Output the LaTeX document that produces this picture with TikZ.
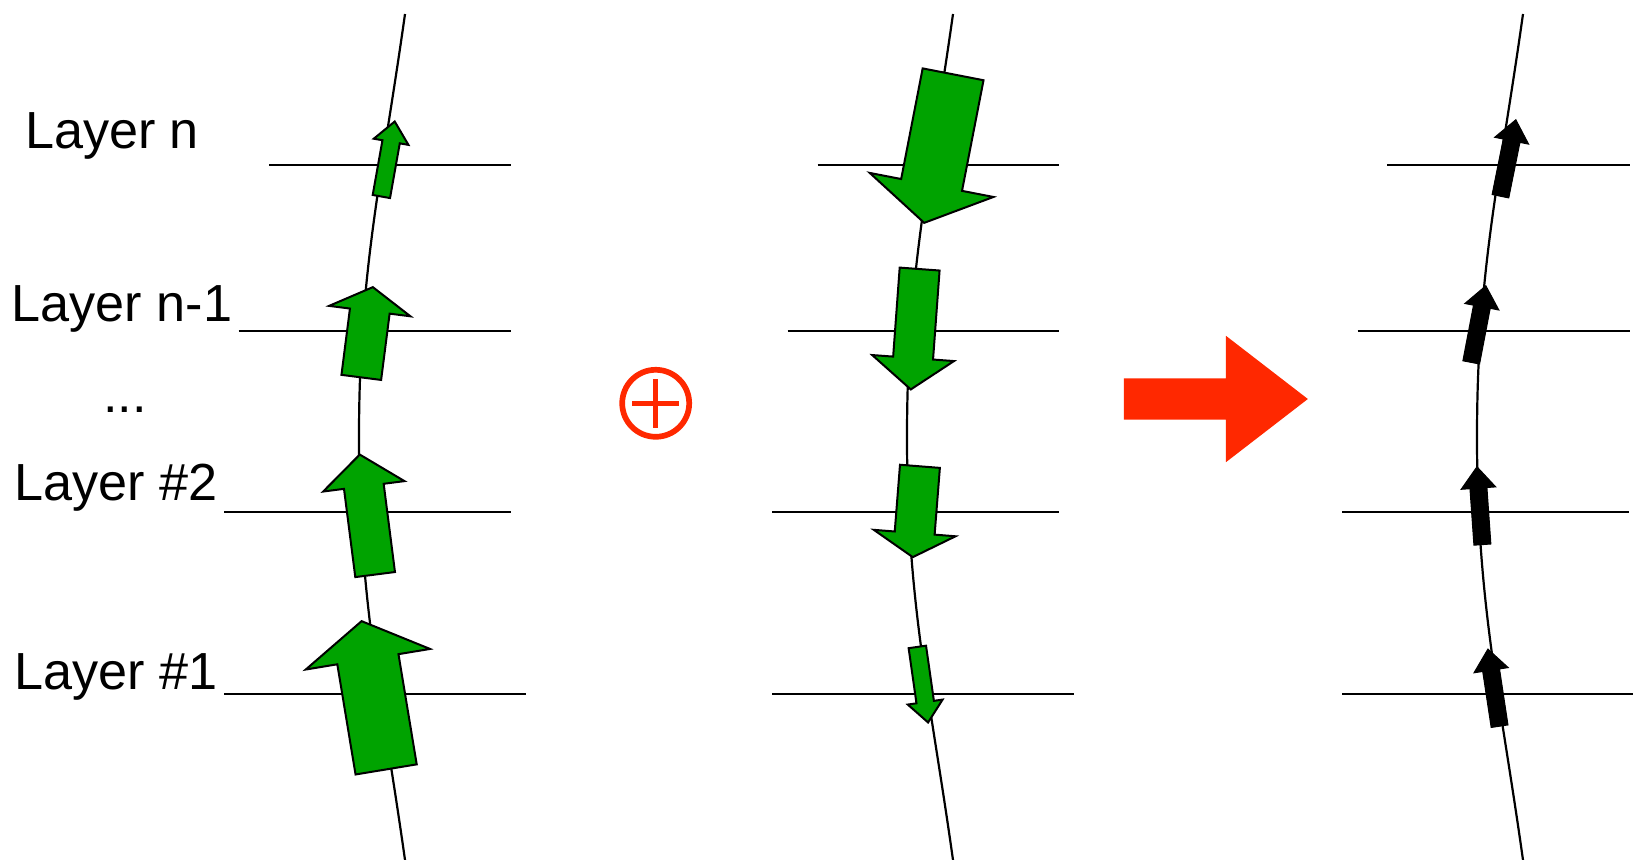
\documentclass[tikz,border=0pt]{standalone}
\usepackage{fontspec}
\setmainfont{Liberation Sans}
\usetikzlibrary{shapes.arrows}
\definecolor{gradgreen}{RGB}{0,163,0}
\definecolor{sumred}{RGB}{255,40,0}

\begin{document}
\begin{tikzpicture}[
    trace/.style={line width=0.022cm},
    lbl/.style={font=\fontsize{14.85}{17}\selectfont, inner sep=0pt, anchor=base west},
    grad/.style={single arrow, fill=gradgreen, draw=black, line width=0.02cm,
      inner xsep=0pt, anchor=tip},
    bigarrow/.style={inner ysep=0.3cm, single arrow head extend=0.32cm, single arrow tip angle=117},
    midarrow/.style={inner ysep=0.19cm, single arrow head extend=0.21cm, single arrow tip angle=119},
    smallarrow/.style={inner ysep=0.078cm, single arrow head extend=0.088cm, single arrow tip angle=81},
    total/.style={single arrow, fill=black, draw=black, line width=0.01cm, inner xsep=0pt,
      inner ysep=0.08cm, single arrow head extend=0.088cm, single arrow tip angle=78,
      minimum height=0.78cm, anchor=tip}]
  \useasboundingbox (0,0) rectangle (16.33,8.60);

  \node[lbl] (Ln) at (0.243,7.11) {Layer n};
  \node[lbl] (Lm) at (0.11,5.38) {Layer n-1};
  \node[lbl] (Ld) at (1.024,4.47) {...};
  \node[lbl] (L2) at (0.14,3.593) {Layer \#2};
  \node[lbl] (L1) at (0.14,1.70) {Layer \#1};

  % the three traces through the layers
  \draw[trace] (4.05,8.46) to[out=-98,in=90] (3.59,4.23) to[out=-90,in=98] (4.05,0);
  \draw[trace] (9.53,8.46) to[out=-98,in=90] (9.07,4.23) to[out=-90,in=98] (9.53,0);
  \draw[trace] (15.23,8.46) to[out=-98,in=90] (14.77,4.23) to[out=-90,in=98] (15.23,0);

  % layer lines
  \draw[trace] (2.69,6.953) -- (5.11,6.953);
  \draw[trace] (2.386,5.29) -- (5.11,5.29);
  \draw[trace] (2.24,3.477) -- (5.11,3.477);
  \draw[trace] (2.24,1.657) -- (5.26,1.657);
  \draw[trace] (8.177,6.953) -- (10.59,6.953);
  \draw[trace] (7.877,5.29) -- (10.59,5.29);
  \draw[trace] (7.72,3.477) -- (10.59,3.477);
  \draw[trace] (7.72,1.657) -- (10.74,1.657);
  \draw[trace] (13.87,6.953) -- (16.30,6.953);
  \draw[trace] (13.575,5.29) -- (16.30,5.29);
  \draw[trace] (13.42,3.477) -- (16.29,3.477);
  \draw[trace] (13.42,1.657) -- (16.33,1.657);

  % forward
  \node[grad, smallarrow, minimum height=0.762cm, rotate=79.9] (Fn) at (3.95,7.40) {};
  \node[grad, midarrow, minimum height=0.91cm, rotate=82.7] (Fm) at (3.73,5.74) {};
  \node[grad, midarrow, minimum height=1.21cm, rotate=97.3, single arrow tip angle=104] (F2) at (3.596,4.067) {};
  \node[grad, bigarrow, minimum height=1.503cm, rotate=99.4] (F1) at (3.614,2.40) {};

  % backward
  \node[grad, bigarrow, minimum height=1.513cm, rotate=-101] (Bn) at (9.24,6.36) {};
  \node[grad, midarrow, minimum height=1.207cm, rotate=-94.2, single arrow tip angle=105] (Bm) at (9.107,4.693) {};
  \node[grad, midarrow, minimum height=0.911cm, rotate=-94.5] (B2) at (9.127,3.017) {};
  \node[grad, smallarrow, minimum height=0.763cm, rotate=-81.9] (B1) at (9.283,1.36) {};

  % sum
  \node[total, rotate=78.6] (Sn) at (15.16,7.41) {};
  \node[total, rotate=79.2] (Sm) at (14.86,5.75) {};
  \node[total, rotate=94] (S2) at (14.769,3.94) {};
  \node[total, rotate=98.6] (S1) at (14.878,2.117) {};

  \node[circle, draw=sumred, line width=0.057cm, inner sep=0pt, minimum size=0.67cm] (P) at (6.557,4.567) {};
  \draw[sumred, line width=0.05cm] ([xshift=-0.235cm]P.center) -- ([xshift=0.235cm]P.center)
    ([yshift=-0.245cm]P.center) -- ([yshift=0.245cm]P.center);

  \node[single arrow, fill=sumred, inner xsep=0pt, inner ysep=0.2cm, single arrow head extend=0.425cm,
    single arrow tip angle=75.3, minimum height=1.84cm, anchor=tip] (R) at (13.09,4.61) {};
\end{tikzpicture}
\end{document}
